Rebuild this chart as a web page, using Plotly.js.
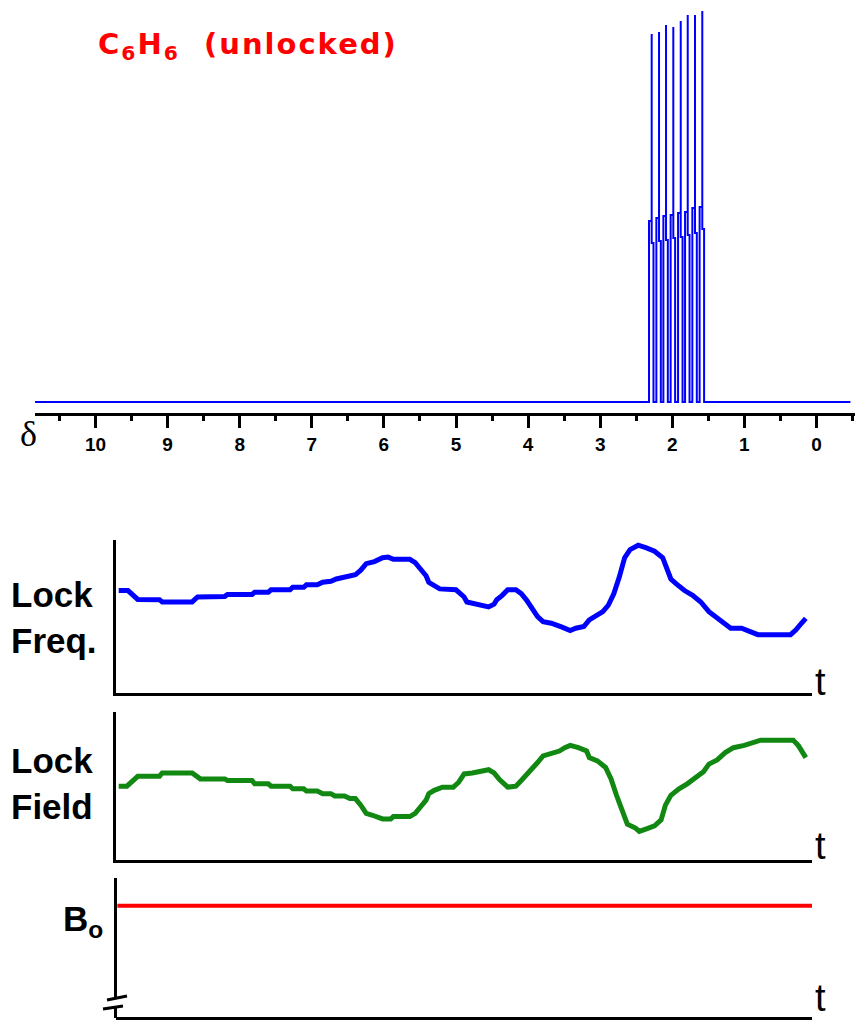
<!DOCTYPE html>
<html><head><meta charset="utf-8">
<script src="https://cdn.plot.ly/plotly-3.0.1.min.js"></script>
<style>
html,body{margin:0;padding:0;background:#fff;}
#chart{width:855px;height:1021px;}
g.annotation[data-index="0"] text{letter-spacing:2px;}
</style></head><body><div id="chart"></div>
<script>
const W = 855, H = 1021;

// ---------- top spectrum (delta, ppm) ----------
const spectrumLimits = [10.84, -0.47];
const peakShift  = [2.286, 2.184, 2.087, 1.986, 1.883, 1.786, 1.685, 1.584];
const peakTop    = [368, 370, 377, 375, 381, 387, 387, 391];
const peakShoulder = [181, 184, 186, 187, 189, 190, 194, 195];
const peakLow    = [159, 161, 162, 164, 165, 167, 169, 173];
const deltaTicks = [10, 9, 8, 7, 6, 5, 4, 3, 2, 1, 0];
const deltaTickText = ['10', '9', '8', '7', '6', '5', '4', '3', '2', '1', '0'];
const deltaMinor = [10.5, 9.5, 8.5, 7.5, 6.5, 5.5, 4.5, 3.5, 2.5, 1.5, 0.5, -0.5];

// ---------- lock frequency vs time ----------
const freqTime = [0.39,1.72,3.13,6.25,6.64,10.94,11.72,15.63,16.02,19.54,19.93,21.88,22.28,25.01,25.40,26.97,27.36,28.92,29.70,30.87,31.65,32.83,33.61,34.39,35.17,35.95,37.13,38.30,39.08,39.86,42.21,42.99,43.77,44.55,44.94,45.72,46.51,48.85,50.02,50.41,51.59,52.76,53.54,54.32,54.71,55.49,56.28,57.45,58.23,59.01,59.79,60.57,61.36,62.53,64.09,65.26,66.05,67.22,68.00,68.78,69.95,70.73,71.52,72.30,73.08,73.86,75.03,76.21,77.38,78.55,79.72,80.50,81.68,82.85,84.02,85.19,86.37,87.54,88.32,89.88,91.06,92.23,96.92,97.70,98.48,99.11];
const lockFreq = [68.3,68.3,62.4,62.2,60.7,60.7,64.0,64.4,65.7,65.7,67.2,67.2,68.8,68.8,70.5,70.5,72.1,72.1,73.8,74.5,76.0,77.1,78.6,78.8,81.9,86.2,87.6,90.2,90.6,89.1,89.1,86.9,82.5,78.2,73.8,71.6,69.4,68.8,64.0,60.7,59.6,58.5,57.4,59.2,62.2,65.1,68.8,68.8,66.2,61.8,56.3,50.9,47.6,46.5,43.9,41.7,43.2,44.3,48.7,50.9,54.2,58.5,66.2,77.1,90.2,95.6,98.5,96.7,94.5,90.2,76.0,72.7,68.3,65.1,60.7,54.2,50.4,46.5,43.2,43.2,41.0,38.9,38.9,42.1,46.5,49.8];

// ---------- lock field vs time ----------
const fieldTime = [0.39,1.56,3.13,6.25,6.64,10.94,12.11,15.63,16.02,19.54,19.93,21.88,22.28,25.01,25.40,26.97,27.36,28.92,29.70,30.87,31.42,32.83,33.61,34.39,35.17,35.95,36.74,38.30,39.47,39.86,42.21,42.99,43.77,44.55,44.94,45.72,46.90,48.46,49.24,50.02,51.19,52.37,53.54,54.32,55.10,56.28,57.45,58.23,59.01,59.79,60.57,61.36,62.53,63.70,64.48,65.26,66.44,67.61,68.00,69.17,70.34,71.13,71.91,72.69,73.47,74.64,75.19,76.21,77.38,78.32,78.94,79.72,80.89,82.07,83.24,84.41,85.19,86.37,87.54,88.71,90.27,91.44,92.62,97.31,98.09,99.11];
const lockField = [50.9,50.9,57.7,57.7,60.0,60.0,55.9,55.9,54.8,54.8,52.5,52.5,50.9,50.9,49.1,49.1,47.5,47.5,45.7,45.7,44.1,44.1,42.3,42.3,37.8,32.1,31.0,28.3,28.3,29.9,29.9,32.1,36.7,41.2,45.7,48.0,50.2,50.2,53.6,59.3,60.0,61.5,62.2,60.0,55.4,50.2,50.9,54.8,58.6,62.7,67.2,71.7,73.5,75.1,77.4,79.0,77.4,75.1,70.6,68.3,63.8,55.9,44.6,33.3,24.7,22.0,19.7,21.5,23.5,27.6,37.8,44.6,49.1,52.5,57.0,60.9,66.1,69.0,74.0,77.4,79.0,81.2,82.6,82.6,78.5,70.6];

// ---------- B0 vs time ----------
const b0Time = [0.2, 100];
const b0Value = [80, 80];

// build the unlocked spectrum trace from the peak arrays
const specX = [spectrumLimits[0]], specY = [0];
const dL = 0.037, dR = -0.025;
for (let i = 0; i < peakShift.length; i++) {
  const c = peakShift[i];
  specX.push(c + dL, c + dL, c, c, c, c + dR, c + dR);
  specY.push(0, peakShoulder[i], peakShoulder[i], peakTop[i], peakLow[i], peakLow[i], 0);
}
specX.push(spectrumLimits[1]); specY.push(0);

const px = x => x / W;
const py = y => 1 - y / H;

const traces = [
  {x: specX, y: specY, xaxis: 'x', yaxis: 'y', mode: 'lines', line: {color: '#0000ff', width: 2}, hoverinfo: 'skip'},
  {x: freqTime, y: lockFreq, xaxis: 'x2', yaxis: 'y2', mode: 'lines', line: {color: '#0000ff', width: 5}},
  {x: fieldTime, y: lockField, xaxis: 'x3', yaxis: 'y3', mode: 'lines', line: {color: '#118811', width: 5}},
  {x: b0Time, y: b0Value, xaxis: 'x4', yaxis: 'y4', mode: 'lines', line: {color: '#ff0000', width: 4}}
];

const plainAxis = (dom, anchor, show) => ({
  domain: dom, anchor: anchor, range: [0, 100], showline: show, linecolor: '#000', linewidth: 3,
  ticks: '', showticklabels: false, showgrid: false, zeroline: false, fixedrange: true
});

const lblFont = {family: 'Liberation Sans', size: 35, color: '#000', weight: 'bold'};
const tFont = {family: 'Liberation Sans', size: 38, color: '#000'};

const layout = {
  width: W, height: H, margin: {l: 0, r: 0, t: 0, b: 0},
  paper_bgcolor: '#fff', plot_bgcolor: '#fff', showlegend: false,
  xaxis: {
    domain: [px(35), 1], anchor: 'y', range: [10.839, -0.534],
    showline: true, linecolor: '#000', linewidth: 3,
    ticks: 'outside', ticklen: 12, tickwidth: 3, tickcolor: '#000',
    tickvals: deltaTicks, ticktext: deltaTickText,
    tickfont: {family: 'Liberation Sans', size: 19, color: '#000', weight: 'bold'},
    minor: {tickvals: deltaMinor, ticks: 'outside', ticklen: 5, tickwidth: 3, tickcolor: '#000', showgrid: false},
    showgrid: false, zeroline: false
  },
  yaxis: {domain: [py(413), 1], anchor: 'x', range: [-11, 402], visible: false},
  xaxis2: plainAxis([px(116), px(812)], 'y2', true),
  yaxis2: Object.assign(plainAxis([py(693), py(540)], 'x2', true), {range: [0, 102]}),
  xaxis3: plainAxis([px(116), px(812)], 'y3', true),
  yaxis3: Object.assign(plainAxis([py(860), py(712)], 'x3', true), {range: [0, 102]}),
  xaxis4: plainAxis([px(116), px(812)], 'y4', true),
  yaxis4: plainAxis([py(1017), py(878)], 'x4', false),
  annotations: [
    {text: 'C<sub>6</sub>H<sub>6</sub>&nbsp;&nbsp;(unlocked)', xref: 'paper', yref: 'paper', x: px(248), y: py(46),
     xanchor: 'center', yanchor: 'middle', showarrow: false,
     font: {family: 'DejaVu Sans', size: 29, color: '#ff0000', weight: 'bold'}},
    {text: 'δ', xref: 'paper', yref: 'paper', x: px(28), y: py(434), xanchor: 'center', yanchor: 'middle', showarrow: false,
     font: {family: 'Liberation Serif', size: 36, color: '#000'}},
    {text: 'Lock<br>Freq.', xref: 'paper', yref: 'paper', x: px(9), y: py(617), xanchor: 'left', yanchor: 'middle', align: 'left', showarrow: false, font: lblFont},
    {text: 'Lock<br>Field', xref: 'paper', yref: 'paper', x: px(9), y: py(783), xanchor: 'left', yanchor: 'middle', align: 'left', showarrow: false, font: lblFont},
    {text: 'B<sub>o</sub>', xref: 'paper', yref: 'paper', x: px(61), y: py(921), xanchor: 'left', yanchor: 'middle', showarrow: false, font: lblFont},
    {text: 't', xref: 'paper', yref: 'paper', x: px(813), y: py(705), xanchor: 'left', yanchor: 'bottom', showarrow: false, font: tFont},
    {text: 't', xref: 'paper', yref: 'paper', x: px(813), y: py(869), xanchor: 'left', yanchor: 'bottom', showarrow: false, font: tFont},
    {text: 't', xref: 'paper', yref: 'paper', x: px(813), y: py(1021), xanchor: 'left', yanchor: 'bottom', showarrow: false, font: tFont}
  ],
  shapes: [
    {type: 'line', xref: 'paper', yref: 'paper', x0: px(115.5), x1: px(115.5), y0: py(878), y1: py(998), line: {color: '#000', width: 3}},
    {type: 'line', xref: 'paper', yref: 'paper', x0: px(107), x1: px(127), y0: py(1000), y1: py(996), line: {color: '#000', width: 3}},
    {type: 'line', xref: 'paper', yref: 'paper', x0: px(103), x1: px(123), y0: py(1009), y1: py(1006), line: {color: '#000', width: 3}},
    {type: 'line', xref: 'paper', yref: 'paper', x0: px(115.5), x1: px(115.5), y0: py(1007), y1: py(1018), line: {color: '#000', width: 3}}
  ]
};

Plotly.newPlot('chart', traces, layout, {staticPlot: true, displayModeBar: false});
</script></body></html>
